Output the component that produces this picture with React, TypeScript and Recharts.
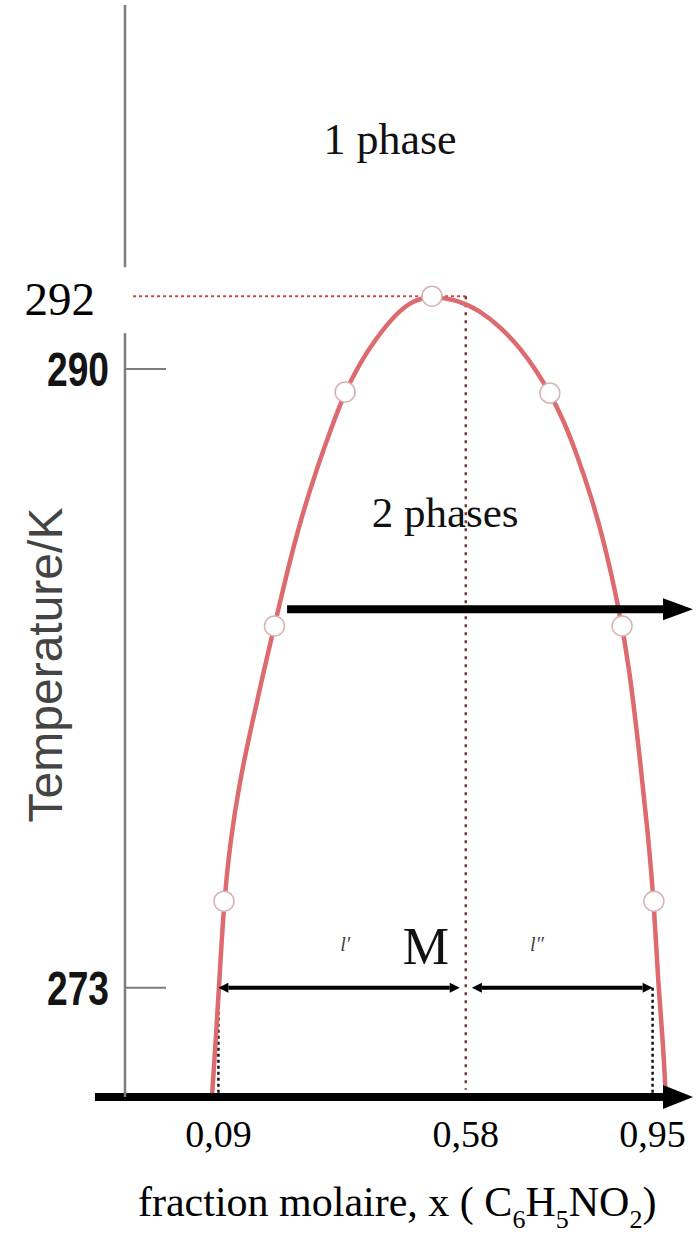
import React from 'react'
import {
  ComposedChart, Line, Scatter, XAxis, YAxis,
  ReferenceLine, ReferenceDot, Label,
} from 'recharts'

// miscibility curve nitrobenzene / hexane, sorted by composition
const curveX = [
  0.0772, 0.0848, 0.0911, 0.1010, 0.1139, 0.1317, 0.1525, 0.1743, 0.2010, 0.2238,
  0.2525, 0.2861, 0.3119, 0.3406, 0.3703, 0.4000, 0.4426, 0.4772, 0.5129, 0.5624,
  0.6059, 0.6495, 0.6911, 0.7188, 0.7465, 0.7733, 0.7992, 0.8287, 0.8545, 0.8832,
  0.9040, 0.9267, 0.9406, 0.9525, 0.9615, 0.9703, 0.9762,
]
const curveT = [
  270.00, 271.57, 273.00, 275.38, 277.06, 278.63, 280.00, 281.37, 282.94, 284.29,
  285.85, 287.31, 288.32, 289.37, 290.16, 290.80, 291.54, 291.90, 292.00, 291.90,
  291.62, 291.15, 290.52, 289.97, 289.34, 288.60, 287.69, 286.48, 285.22, 283.43,
  281.81, 279.07, 277.25, 275.38, 273.00, 271.57, 270.00,
]

// measured points
const pointX = [0.101, 0.201, 0.341, 0.513, 0.7465, 0.8895, 0.9525]
const pointT = [275.38, 282.94, 289.37, 292.0, 289.34, 282.94, 275.38]

const xTicks = [0.09, 0.58, 0.95]
const tTicks = [273, 290, 292]

const T_CRIT = 292
const X_CRIT = 0.58
const T_TIE = 273
const X_LEFT = 0.09
const X_RIGHT = 0.95
const X_M = 0.58

// horizontal arrow across the two-phase region
const ARROW_T = 283.4
const ARROW_FROM = 0.226
const ARROW_TO = 1.03

const notes = [
  { text: '1 phase', x: 0.43, t: 295.9, size: 44, italic: false },
  { text: '2 phases', x: 0.539, t: 285.66, size: 43, italic: false },
  { text: 'M', x: 0.501, t: 273.65, size: 52, italic: false },
  { text: 'l\u2032', x: 0.341, t: 274.0, size: 20, italic: true },
  { text: 'l\u2033', x: 0.721, t: 274.0, size: 20, italic: true },
]

const curve = curveX.map((x, i) => ({ x, T: curveT[i] }))
const points = pointX.map((x, i) => ({ x, T: pointT[i] }))

const SERIF = "'Liberation Serif', 'Times New Roman', serif"
const SANS = "'Liberation Sans', Arial, sans-serif"
const NARROW = "'Liberation Sans Narrow', 'Liberation Sans', Arial, sans-serif"

function YTick({ x, y, payload }: any) {
  const v = payload.value
  if (v === T_CRIT) {
    return (
      <g>
        <rect x={0} y={y - 29} width={x + 8} height={66} fill="#fff" />
        <text x={x - 30} y={y + 19} textAnchor="end" fontFamily={SERIF} fontSize={47} fill="#000">{v}</text>
      </g>
    )
  }
  return (
    <g>
      <line x1={x} y1={y} x2={x + 41} y2={y} stroke="#7d7d7d" strokeWidth={2} />
      <text
        x={x - 16} y={y + 17} textAnchor="end" fontFamily={NARROW} fontWeight="bold"
        fontSize={48} textLength={62} lengthAdjust="spacingAndGlyphs" fill="#141414"
      >
        {v}
      </text>
    </g>
  )
}

// horizontal line with a filled head at the end (and optionally the start)
function Arrow({ x1, y1, x2, y2, w, len, half, both }: any) {
  const dir = Math.sign(x2 - x1) || 1
  const endX = x2 - dir * len
  const startX = both ? x1 + dir * len : x1
  return (
    <g>
      <line x1={startX} y1={y1} x2={endX} y2={y2} stroke="#000" strokeWidth={w} />
      <polygon points={`${x2},${y2} ${endX},${y2 - half} ${endX},${y2 + half}`} fill="#000" />
      {both && (
        <polygon points={`${x1},${y1} ${startX},${y1 - half} ${startX},${y1 + half}`} fill="#000" />
      )}
    </g>
  )
}

function YTitle({ viewBox }: any) {
  return (
    <text
      transform={`translate(${viewBox.x + 62}, ${viewBox.y + 660}) rotate(-90)`}
      textAnchor="middle" fontFamily={SANS} fontSize={48} fill="#444"
    >
      Temperature/K
    </text>
  )
}

function XTitle({ viewBox }: any) {
  return (
    <text x={viewBox.x + 13} y={viewBox.y + 119} fontFamily={SERIF} fontSize={42} fill="#000">
      fraction molaire, x ( C
      <tspan dy={12} fontSize={26}>6</tspan>
      <tspan dy={-12}>H</tspan>
      <tspan dy={12} fontSize={26}>5</tspan>
      <tspan dy={-12}>NO</tspan>
      <tspan dy={12} fontSize={26}>2</tspan>
      <tspan dy={-12}>)</tspan>
    </text>
  )
}

export default function App() {
  return (
    <>
      <style>{'body{margin:0;background:#fff}'}</style>
      <ComposedChart width={696} height={1237} margin={{ top: 5, right: 3, bottom: 0, left: 0 }}>
        <XAxis
          type="number"
          dataKey="x"
          domain={[-0.095, 1.03]}
          allowDataOverflow
          ticks={xTicks}
          interval={0}
          tickFormatter={(v: number) => v.toFixed(2).replace('.', ',')}
          axisLine={false}
          tickLine={false}
          tickSize={0}
          tickMargin={23}
          height={140}
          tick={{ fill: '#000', fontSize: 38, fontFamily: SERIF }}
        >
          <Label content={XTitle} />
        </XAxis>
        <YAxis
          type="number"
          dataKey="T"
          domain={[270, 300]}
          allowDataOverflow
          ticks={tTicks}
          interval={0}
          width={125}
          axisLine={{ stroke: '#7d7d7d', strokeWidth: 2.5 }}
          tickLine={false}
          tickSize={0}
          tickMargin={0}
          tick={(p: any) => <YTick {...p} />}
        >
          <Label content={YTitle} />
        </YAxis>

        <ReferenceLine
          segment={[{ x: -0.079, y: T_CRIT }, { x: X_CRIT, y: T_CRIT }]}
          stroke="#c44a4a" strokeWidth={2} strokeDasharray="3 3" ifOverflow="visible"
        />
        <ReferenceLine
          segment={[{ x: X_CRIT, y: T_CRIT }, { x: X_CRIT, y: 270.2 }]}
          stroke="#7a3636" strokeWidth={2.5} strokeDasharray="3 5" ifOverflow="visible"
        />
        <ReferenceLine
          segment={[{ x: X_LEFT, y: T_TIE }, { x: X_LEFT, y: 270 }]}
          stroke="#111" strokeWidth={2.5} strokeDasharray="3 3" ifOverflow="visible"
        />
        <ReferenceLine
          segment={[{ x: X_RIGHT, y: T_TIE }, { x: X_RIGHT, y: 270 }]}
          stroke="#111" strokeWidth={2.5} strokeDasharray="3 3" ifOverflow="visible"
        />

        <Line
          data={curve}
          dataKey="T"
          type="basis"
          stroke="#dc6a6e"
          strokeWidth={4.5}
          dot={false}
          activeDot={false}
          isAnimationActive={false}
        />
        <Scatter
          data={points}
          dataKey="T"
          isAnimationActive={false}
          shape={(p: any) => (
            <circle cx={p.cx} cy={p.cy} r={10} fill="#fff" stroke="#d4b4b5" strokeWidth={1.5} />
          )}
        />

        {/* tie line l' | l'' at 273 K */}
        <ReferenceLine
          segment={[{ x: X_LEFT, y: T_TIE }, { x: X_M - 0.012, y: T_TIE }]}
          ifOverflow="visible"
          shape={(p: any) => <Arrow {...p} w={4} len={10} half={5} both />}
        />
        <ReferenceLine
          segment={[{ x: X_M + 0.012, y: T_TIE }, { x: X_RIGHT, y: T_TIE }]}
          ifOverflow="visible"
          shape={(p: any) => <Arrow {...p} w={4} len={10} half={5} both />}
        />
        <ReferenceLine
          segment={[{ x: ARROW_FROM, y: ARROW_T }, { x: ARROW_TO, y: ARROW_T }]}
          ifOverflow="visible"
          shape={(p: any) => <Arrow {...p} w={8} len={30} half={11} />}
        />
        {/* composition axis drawn as an arrow */}
        <ReferenceLine
          segment={[{ x: -0.1545, y: 270 }, { x: ARROW_TO, y: 270 }]}
          ifOverflow="visible"
          shape={(p: any) => <Arrow {...p} w={8} len={30} half={12} />}
        />

        {notes.map((n) => (
          <ReferenceDot
            key={n.text}
            x={n.x}
            y={n.t}
            r={0}
            ifOverflow="visible"
            shape={(p: any) => (
              <text
                x={p.cx} y={p.cy} textAnchor="middle" fontFamily={SERIF}
                fontSize={n.size} fontStyle={n.italic ? 'italic' : 'normal'}
                fill={n.italic ? '#444' : '#111'}
              >
                {n.text}
              </text>
            )}
          />
        ))}
      </ComposedChart>
    </>
  )
}
